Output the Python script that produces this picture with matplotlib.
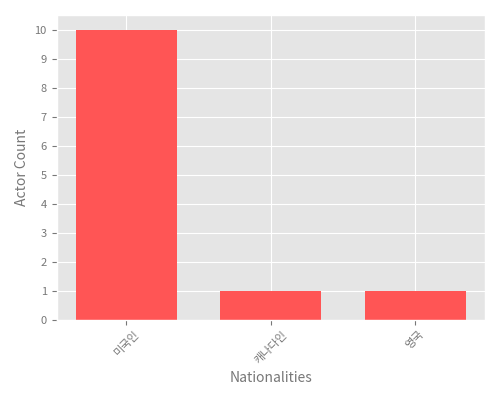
import matplotlib
matplotlib.use('Agg')
import matplotlib.pyplot as plt

plt.style.use('ggplot')
plt.rcParams['font.family'] = ['Noto Sans CJK KR', 'DejaVu Sans']

nationalities = ['미국인', '캐나다인', '영국']
actor_counts = [10, 1, 1]

figure = plt.figure(figsize=(5, 4), dpi=100)
axis = figure.add_subplot(1, 1, 1)
axis.bar(nationalities, actor_counts, color='#ff5555', width=0.7)
axis.set_yticks(range(0, 11))
axis.set_xlabel('Nationalities', color='#777777', fontsize=10)
axis.set_ylabel('Actor Count', color='#777777', fontsize=10)
axis.tick_params(axis='both', labelsize=8, colors='#777777')
plt.setp(axis.get_xticklabels(), rotation=45)
figure.tight_layout()
figure.savefig('out.png', dpi=100)
plt.close(figure)
